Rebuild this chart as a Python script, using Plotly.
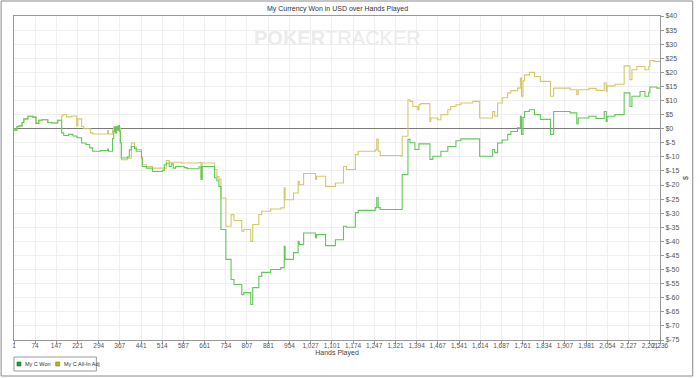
import plotly.graph_objects as go

# ---------------- data ----------------
won_hands = [1, 4, 11, 18, 29, 35, 49, 66, 77, 87, 97, 118, 132, 152, 166, 173, 190, 205, 218, 221,
             235, 250, 263, 273, 300, 325, 328, 342, 346, 349, 352, 356, 359, 363, 366, 369, 372, 393,
             400, 407, 418, 424, 442, 445, 459, 480, 514, 521, 528, 538, 545, 552, 560, 580, 590, 600,
             641, 648, 652, 686, 695, 703, 710, 717, 734, 752, 762, 789, 796, 820, 827, 848, 858, 889,
             924, 936, 939, 968, 984, 988, 1003, 1044, 1048, 1079, 1113, 1141, 1151, 1182, 1192, 1251,
             1256, 1261, 1268, 1344, 1364, 1371, 1388, 1402, 1440, 1450, 1478, 1502, 1530, 1547, 1612,
             1657, 1664, 1674, 1690, 1709, 1720, 1743, 1753, 1757, 1762, 1767, 1784, 1802, 1822, 1857,
             1868, 1925, 1948, 1953, 1990, 2015, 2043, 2050, 2053, 2080, 2112, 2132, 2139, 2167, 2184,
             2197, 2201, 2225, 2236]
won_values = [0, -0.5, 0.7, 1.0, 2.2, 3.5, 4.4, 4.1, 1.9, 3.0, 3.2, 2.2, 2.0, 3.0, -1.5, -2.4, -2.0,
              -2.6, -3.0, -3.2, -5.1, -5.6, -6.8, -8.0, -7.8, -7.2, -8.0, -3.5, -1.0, 0.5, -1.5, 0.8,
              -0.5, 1.1, -1.0, -5.0, -10.4, -10.0, -7.5, -6.3, -7.0, -8.0, -10.5, -13.4, -14.0, -15.2,
              -14.8, -12.8, -12.2, -13.4, -12.5, -14.0, -13.4, -13.4, -13.8, -14.2, -13.5, -18.0,
              -13.4, -13.4, -17.4, -18.5, -20.5, -35.8, -46.4, -53.5, -55.3, -58.9, -58.2, -62.4,
              -56.4, -52.4, -51.0, -50.0, -49.3, -41.7, -46.4, -44.0, -40.0, -41.1, -37.0, -38.7,
              -37.6, -41.5, -39.4, -34.6, -35.0, -29.8, -29.0, -28.0, -24.5, -28.0, -28.7, -16.3,
              -3.8, -5.0, -7.4, -5.4, -10.9, -9.8, -8.0, -6.3, -4.3, -3.6, -9.8, -7.4, -8.5, -5.1,
              -4.0, -2.0, -1.0, 0.3, 4.4, -2.0, 4.0, 6.1, 6.7, 5.0, 3.3, -2.0, 6.1, 5.6, 1.8, 3.8,
              4.4, 3.6, 6.1, 2.6, 4.4, 5.0, 12.7, 7.9, 11.5, 13.2, 11.5, 12.9, 14.8, 14.4, 14.4]

adj_hands = [1, 4, 11, 18, 29, 35, 49, 66, 77, 87, 97, 118, 132, 152, 166, 170, 183, 201, 218, 222,
             235, 242, 265, 273, 325, 328, 342, 346, 352, 356, 363, 369, 373, 393, 407, 418, 424,
             442, 445, 459, 480, 528, 538, 580, 641, 648, 652, 686, 695, 703, 710, 717, 734, 752,
             762, 789, 796, 820, 827, 848, 858, 889, 924, 936, 939, 968, 984, 988, 1003, 1044, 1048,
             1079, 1113, 1141, 1151, 1182, 1192, 1251, 1256, 1261, 1268, 1340, 1344, 1364, 1371,
             1381, 1398, 1402, 1408, 1440, 1443, 1467, 1478, 1502, 1512, 1530, 1547, 1588, 1612,
             1657, 1664, 1674, 1690, 1709, 1720, 1743, 1753, 1757, 1762, 1767, 1784, 1802, 1822,
             1857, 1868, 1925, 1948, 1953, 1990, 2015, 2043, 2050, 2053, 2080, 2112, 2132, 2139,
             2156, 2167, 2184, 2197, 2201, 2215, 2236]
adj_values = [0, -0.5, 0.7, 1.0, 2.2, 3.5, 4.4, 4.1, 1.9, 3.0, 3.2, 2.2, 2.0, 3.0, 4.4, 5.0, 4.2,
              4.5, 1.0, 3.5, 0.8, 0.0, -1.5, -1.9, -0.7, -1.9, -0.5, 0.8, -0.5, 0.8, 0.3, -5.0,
              -11.0, -10.5, -5.1, -6.5, -7.4, -10.0, -12.8, -13.4, -14.0, -11.3, -11.9, -12.2,
              -12.0, -17.4, -12.2, -12.2, -14.5, -17.0, -18.0, -24.6, -34.6, -30.5, -32.6, -36.4,
              -35.8, -40.0, -34.0, -30.5, -29.3, -28.5, -28.1, -21.0, -25.2, -22.8, -18.7, -19.9,
              -15.9, -18.0, -16.9, -20.5, -19.3, -13.4, -14.5, -9.2, -8.0, -7.5, -3.7, -8.0, -9.5,
              -9.8, -2.7, 10.3, 9.7, 7.9, 6.7, 8.5, 8.9, 2.6, 3.8, 3.2, 5.0, 6.7, 7.9, 8.5, 9.1,
              9.7, 3.8, 6.1, 4.4, 9.1, 11.0, 12.7, 13.5, 14.4, 18.0, 11.5, 17.0, 19.1, 20.0, 18.5,
              16.8, 11.5, 14.4, 13.8, 12.1, 13.8, 14.3, 13.6, 16.2, 13.2, 15.2, 15.8, 22.3, 17.4,
              20.9, 22.1, 22.1, 20.9, 22.1, 24.2, 23.9, 23.9]

x_ticks = [1, 74, 147, 221, 294, 367, 441, 514, 587, 661, 734, 807, 881, 954, 1027, 1101, 1174,
           1247, 1321, 1394, 1467, 1541, 1614, 1687, 1761, 1834, 1907, 1981, 2054, 2127, 2201, 2236]
y_ticks = list(range(-75, 41, 5))

series_names = ["My C Won", "My C All-In Adj"]
line_colors = ["#62c85a", "#d2c96a"]
legend_colors = ["#2f9a2f", "#b9b224"]

# ---------------- figure ----------------
W, H = 700, 378
L, R, T, B = 14, 35, 16, 38
pw, ph = W - L - R, H - T - B


def px_x(p):
    return (p - L) / pw


def px_y(p):
    return (H - B - p) / ph


fig = go.Figure()
fig.add_trace(go.Scatter(x=adj_hands, y=adj_values, name=series_names[1], mode="lines",
                         line=dict(color=line_colors[1], width=1.1, shape="hv"), showlegend=False))
fig.add_trace(go.Scatter(x=won_hands, y=won_values, name=series_names[0], mode="lines",
                         line=dict(color=line_colors[0], width=1.1, shape="hv"), showlegend=False))

font_fam = "Liberation Sans, Arial, sans-serif"
fig.update_layout(
    width=W, height=H,
    margin=dict(l=L, r=R, t=T, b=B),
    paper_bgcolor="white", plot_bgcolor="white",
    font=dict(family=font_fam, size=7, color="#444"),
    title=dict(text="My Currency Won in USD over Hands Played", x=px_x(340), xref="paper",
               y=1 - 9 / H, yref="container", xanchor="center", yanchor="middle",
               font=dict(size=7, color="#333")),
    xaxis=dict(range=[1, 2236], tickvals=x_ticks, ticktext=[f"{v:,}" for v in x_ticks],
               showgrid=True, gridcolor="#efefef", gridwidth=1,
               showline=True, linecolor="#999", linewidth=1, mirror=True,
               ticks="outside", ticklen=3, tickcolor="#999", tickangle=0,
               ticklabelstandoff=-4,
               tickfont=dict(size=6.5, color="#555"),
               title=dict(text="Hands Played", standoff=1, font=dict(size=7, color="#444")),
               zeroline=False),
    yaxis=dict(range=[-75, 40], side="right", tickvals=y_ticks,
               ticktext=[f"${v}" for v in y_ticks],
               showgrid=True, gridcolor="#efefef", gridwidth=1,
               showline=True, linecolor="#999", linewidth=1, mirror=True,
               ticks="outside", ticklen=3, tickcolor="#999",
               tickfont=dict(size=7, color="#555"),
               title=dict(text="$", standoff=4, font=dict(size=7, color="#444")),
               zeroline=True, zerolinecolor="#7a7a7a", zerolinewidth=1),
    showlegend=False,
)

shapes = [
    # outer frame
    dict(type="rect", xref="paper", yref="paper", x0=px_x(1), x1=px_x(698), y0=px_y(376), y1=px_y(1),
         line=dict(color="#8a8a8a", width=1), fillcolor="rgba(0,0,0,0)", layer="below"),
    # legend box
    dict(type="rect", xref="paper", yref="paper", x0=px_x(14), x1=px_x(97), y0=px_y(371), y1=px_y(357),
         line=dict(color="#999", width=1), fillcolor="white"),
    dict(type="rect", xref="paper", yref="paper", x0=px_x(17), x1=px_x(21), y0=px_y(366), y1=px_y(362),
         line=dict(color="#1f6f1f", width=0.6), fillcolor=legend_colors[0]),
    dict(type="rect", xref="paper", yref="paper", x0=px_x(56), x1=px_x(60), y0=px_y(366), y1=px_y(362),
         line=dict(color="#7f7a10", width=0.6), fillcolor=legend_colors[1]),
]
fig.update_layout(shapes=shapes)

annotations = [
    dict(text="<b>POKER</b>TRACKER", xref="paper", yref="paper", x=px_x(340), y=px_y(38),
         showarrow=False, font=dict(size=20, color="#ebebeb", family=font_fam),
         xanchor="center", yanchor="middle"),
    dict(text=series_names[0], xref="paper", yref="paper", x=px_x(23), y=px_y(364),
         showarrow=False, xanchor="left", yanchor="middle", font=dict(size=5.5, color="#333")),
    dict(text=series_names[1], xref="paper", yref="paper", x=px_x(62), y=px_y(364),
         showarrow=False, xanchor="left", yanchor="middle", font=dict(size=5.5, color="#333")),
]
fig.update_layout(annotations=annotations)

fig.write_html("out.html")
